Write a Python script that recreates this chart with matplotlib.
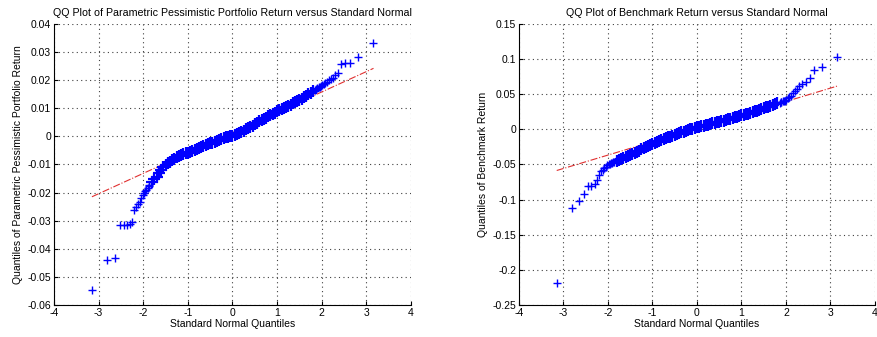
import numpy as np
import matplotlib
matplotlib.use("Agg")
import matplotlib.pyplot as plt
from matplotlib.ticker import FuncFormatter

plt.rcParams['font.family'] = ['Liberation Sans', 'DejaVu Sans']
plt.rcParams['axes.unicode_minus'] = False

# theoretical (standard normal) quantiles, shared by both plots
tail_q_low = [-3.15, -2.81, -2.64, -2.53, -2.44, -2.37, -2.30, -2.25, -2.20, -2.16,
              -2.12, -2.08, -2.05, -2.01, -1.98, -1.96, -1.93, -1.90, -1.88, -1.86]
body_q = [-1.80, -1.75, -1.70, -1.65, -1.60, -1.55, -1.50, -1.45, -1.40, -1.35,
          -1.30, -1.25, -1.20, -1.15, -1.10, -1.05, -1.00, -0.95, -0.90, -0.85,
          -0.80, -0.75, -0.70, -0.65, -0.60, -0.55, -0.50, -0.45, -0.40, -0.35,
          -0.30, -0.25, -0.20, -0.15, -0.10, -0.05, 0.00, 0.05, 0.10, 0.15,
          0.20, 0.25, 0.30, 0.35, 0.40, 0.45, 0.50, 0.55, 0.60, 0.65,
          0.70, 0.75, 0.80, 0.85, 0.90, 0.95, 1.00, 1.05, 1.10, 1.15,
          1.20, 1.25, 1.30, 1.35, 1.40, 1.45, 1.50, 1.55, 1.60, 1.65,
          1.70, 1.75, 1.80]
tail_q_high = [1.86, 1.88, 1.90, 1.93, 1.96, 1.98, 2.01, 2.05, 2.08, 2.12,
               2.16, 2.20, 2.25, 2.30, 2.37, 2.44, 2.53, 2.64, 2.81, 3.15]

# sample quantiles, parametric pessimistic portfolio
port_low = [-0.0547, -0.0441, -0.0432, -0.0316, -0.0316, -0.0314, -0.0312, -0.0306, -0.0263, -0.0250,
            -0.0242, -0.0232, -0.0220, -0.0210, -0.0203, -0.0196, -0.0190, -0.0184, -0.0178, -0.0173]
port_body = [-0.0162, -0.0152, -0.0143, -0.0130, -0.0118, -0.0109, -0.0101, -0.0095, -0.0090, -0.0085,
             -0.0080, -0.0075, -0.0071, -0.0067, -0.0064, -0.0061, -0.0058, -0.0054, -0.0051, -0.0047,
             -0.0044, -0.0040, -0.0037, -0.0034, -0.0031, -0.0028, -0.0025, -0.0022, -0.0019, -0.0016,
             -0.0013, -0.0010, -0.0007, -0.0004, -0.0001, 0.0001, 0.0002, 0.0004, 0.0008, 0.0012,
             0.0016, 0.0020, 0.0025, 0.0029, 0.0034, 0.0038, 0.0043, 0.0048, 0.0053, 0.0057,
             0.0062, 0.0066, 0.0071, 0.0075, 0.0080, 0.0084, 0.0089, 0.0093, 0.0097, 0.0101,
             0.0105, 0.0109, 0.0113, 0.0117, 0.0121, 0.0125, 0.0130, 0.0134, 0.0139, 0.0144,
             0.0150, 0.0155, 0.0160]
port_high = [0.0166, 0.0168, 0.0171, 0.0174, 0.0177, 0.0180, 0.0183, 0.0186, 0.0190, 0.0194,
             0.0199, 0.0204, 0.0207, 0.0218, 0.0227, 0.0258, 0.0260, 0.0260, 0.0281, 0.0333]
port_fit_x = [-3.15, 3.16]
port_fit_y = [-0.0215, 0.0242]

# sample quantiles, benchmark
bench_low = [-0.218, -0.112, -0.102, -0.0915, -0.081, -0.080, -0.0785, -0.072, -0.065, -0.060,
             -0.058, -0.055, -0.053, -0.051, -0.0500, -0.0492, -0.0485, -0.0478, -0.0470, -0.0463]
bench_body = [-0.0445, -0.0432, -0.0420, -0.0405, -0.0390, -0.0376, -0.0362, -0.0347, -0.0333, -0.0318,
              -0.0303, -0.0287, -0.0272, -0.0256, -0.0240, -0.0226, -0.0212, -0.0198, -0.0184, -0.0170,
              -0.0156, -0.0142, -0.0129, -0.0116, -0.0103, -0.0090, -0.0078, -0.0066, -0.0054, -0.0043,
              -0.0032, -0.0021, -0.0011, -0.0001, 0.0009, 0.0018, 0.0027, 0.0036, 0.0044, 0.0052,
              0.0060, 0.0068, 0.0076, 0.0084, 0.0092, 0.0100, 0.0108, 0.0116, 0.0125, 0.0134,
              0.0143, 0.0152, 0.0161, 0.0170, 0.0179, 0.0188, 0.0197, 0.0206, 0.0215, 0.0225,
              0.0235, 0.0245, 0.0255, 0.0266, 0.0277, 0.0288, 0.0299, 0.0311, 0.0323, 0.0335,
              0.0347, 0.0359, 0.0371]
bench_high = [0.0380, 0.0385, 0.0390, 0.0396, 0.0402, 0.0408, 0.0420, 0.0440, 0.0460, 0.0480,
              0.0510, 0.0545, 0.0580, 0.0620, 0.0650, 0.0680, 0.0730, 0.0850, 0.0880, 0.1030]
bench_fit_x = [-3.15, 3.17]
bench_fit_y = [-0.0586, 0.0619]


def qq_panel(ax, ylow, ybody, yhigh, fit_x, fit_y, title, ylabel, ylim, yticks):
    ax.plot(fit_x, fit_y, color='#e03030', linestyle='-.', linewidth=0.8, zorder=2)
    # dense middle of the distribution, then the sparse tails
    ax.plot(body_q, ybody, linestyle='none', marker='+', color='#0000ff',
            markersize=8, markeredgewidth=1.6, zorder=3)
    ax.plot(tail_q_low + tail_q_high, ylow + yhigh, linestyle='none', marker='+',
            color='#0000ff', markersize=6, markeredgewidth=1.0, zorder=3)
    ax.set_xlim(-4, 4)
    ax.set_ylim(*ylim)
    ax.set_xticks(range(-4, 5))
    ax.set_yticks(yticks)
    ax.yaxis.set_major_formatter(FuncFormatter(lambda v, p: '%g' % round(v, 4)))
    ax.grid(True, linestyle=(0, (1, 3)), color='#404040', linewidth=0.8)
    ax.spines['top'].set_visible(False)
    ax.spines['right'].set_visible(False)
    ax.tick_params(direction='in', labelsize=7.5, length=3, pad=2)
    ax.set_title(title, fontsize=7.7, pad=6)
    ax.set_xlabel('Standard Normal Quantiles', fontsize=7.5, labelpad=1)
    ax.set_ylabel(ylabel, fontsize=7.5, labelpad=3)


fig = plt.figure(figsize=(8.78, 3.37), dpi=100)
ax1 = fig.add_axes([0.0615, 0.095, 0.4066, 0.834])
ax2 = fig.add_axes([0.591, 0.095, 0.4055, 0.834])

qq_panel(ax1, port_low, port_body, port_high, port_fit_x, port_fit_y,
         'QQ Plot of Parametric Pessimistic Portfolio Return versus Standard Normal',
         'Quantiles of Parametric Pessimistic Portfolio Return',
         (-0.06, 0.04), [-0.06, -0.05, -0.04, -0.03, -0.02, -0.01, 0, 0.01, 0.02, 0.03, 0.04])
qq_panel(ax2, bench_low, bench_body, bench_high, bench_fit_x, bench_fit_y,
         'QQ Plot of Benchmark Return versus Standard Normal',
         'Quantiles of Benchmark Return',
         (-0.25, 0.15), [-0.25, -0.2, -0.15, -0.1, -0.05, 0, 0.05, 0.1, 0.15])

fig.savefig('out.png', dpi=100)
